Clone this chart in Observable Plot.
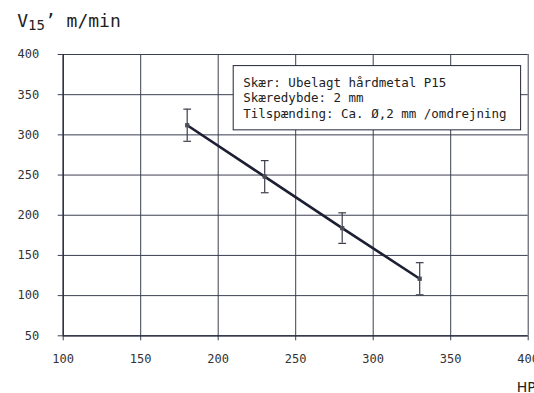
<!DOCTYPE html>
<html>
<head>
<meta charset="utf-8">
<script src="https://cdn.jsdelivr.net/npm/d3@7"></script>
<script src="https://cdn.jsdelivr.net/npm/@observablehq/plot@0.6"></script>
<style>
  html, body { margin: 0; padding: 0; background: #fff; overflow: hidden; }
  #chart svg { display: block; }
</style>
</head>
<body>
<div id="chart"></div>
<script>
// ---- data ----
const hp = [180, 230, 280, 330];
const v15 = [312, 248, 184, 121];
const err = [20, 20, 19, 20];
const xTicks = [100, 150, 200, 250, 300, 350, 400];
const yTicks = [50, 100, 150, 200, 250, 300, 350, 400];
const legendLines = ["Skær: Ubelagt hårdmetal P15", "Skæredybde: 2 mm", "Tilspænding: Ca. \u00d8,2 mm /omdrejning"];
const titleMain = "V";
const titleSub = "15";
const titleRest = "\u2019 m/min";
const xLabel = "HP";

const data = hp.map((x, i) => ({x, y: v15[i], e: err[i]}));
const mono = "'DejaVu Sans Mono', 'Liberation Mono', monospace";
const ink = "#23263a";
const gridC = "#3c3f50";

const plot = Plot.plot({
  width: 534,
  height: 393,
  marginLeft: 62.7,
  marginRight: 6.3,
  marginTop: 54,
  marginBottom: 57.7,
  style: {fontFamily: mono, fontSize: "12px", color: "#333", background: "#fff"},
  x: {domain: [100, 400], ticks: xTicks, tickSize: 5, tickPadding: 14, label: null},
  y: {domain: [50, 400], ticks: yTicks, tickSize: 5, tickPadding: 19, label: null},
  marks: [
    Plot.gridX(xTicks, {stroke: gridC, strokeOpacity: 1, strokeWidth: 1}),
    Plot.gridY(yTicks, {stroke: gridC, strokeOpacity: 1, strokeWidth: 1}),
    Plot.axisX({ticks: xTicks, tickSize: 5, tickPadding: 14, stroke: gridC, fill: "#333", fontSize: 12}),
    Plot.axisY({ticks: yTicks, tickSize: 5, tickPadding: 19, stroke: gridC, fill: "#333", fontSize: 12}),
    Plot.ruleX([100], {stroke: ink, strokeWidth: 1.3}),
    Plot.ruleY([50], {stroke: ink, strokeWidth: 1.3}),
    Plot.ruleX(data, {x: "x", y1: d => d.y - d.e, y2: d => d.y + d.e, stroke: "#3b3e4c", strokeWidth: 1.2}),
    Plot.link(data, {x1: d => d.x - 2.5, x2: d => d.x + 2.5, y1: d => d.y + d.e, y2: d => d.y + d.e, stroke: "#3b3e4c", strokeWidth: 1.2}),
    Plot.link(data, {x1: d => d.x - 2.5, x2: d => d.x + 2.5, y1: d => d.y - d.e, y2: d => d.y - d.e, stroke: "#3b3e4c", strokeWidth: 1.2}),
    Plot.line(data, {x: "x", y: "y", stroke: "#1c1f33", strokeWidth: 2.6}),
    Plot.dot(data, {x: "x", y: "y", symbol: "square", r: 2.4, fill: "#4a4c58", stroke: "none"}),
    Plot.text([legendLines.join("\n")], {frameAnchor: "top-left", dx: 180, dy: 21, textAnchor: "start", lineAnchor: "top", lineHeight: 1.25, fontSize: 12.5, fill: "#222", fontFamily: mono, className: "legendtext"}),
    Plot.text([xLabel], {frameAnchor: "bottom-left", dx: 453.5, dy: 56, lineAnchor: "bottom", textAnchor: "start", fontSize: 14, fill: "#222", fontFamily: "'DejaVu Sans', sans-serif"}),
    Plot.text([titleMain], {frameAnchor: "top-left", dx: -46, dy: -27.3, lineAnchor: "bottom", textAnchor: "start", fontSize: 18, fill: "#222", fontFamily: mono, className: "titletext"})
  ]
});

document.getElementById("chart").appendChild(plot);

// legend box behind legend text
const svg = d3.select(plot);
const lt = svg.select("g.legendtext text");
if (!lt.empty()) {
  const node = lt.node();
  const bb = node.getBBox();
  const g = node.parentNode;
  const r = d3.select(g).insert("rect", "text")
    .attr("x", bb.x - 10).attr("y", bb.y - 9)
    .attr("width", bb.width + 24).attr("height", bb.height + 18)
    .attr("fill", "#fff").attr("stroke", ink).attr("stroke-width", 1);
  if (node.getAttribute("transform")) r.attr("transform", node.getAttribute("transform"));
}
// title with subscript
const tt = svg.select("g.titletext text");
if (!tt.empty()) {
  tt.text(null);
  tt.append("tspan").text(titleMain);
  tt.append("tspan").attr("font-size", 14).attr("dy", "2.6").text(titleSub);
  tt.append("tspan").attr("dy", "-2.6").text(titleRest);
}
</script>
</body>
</html>
